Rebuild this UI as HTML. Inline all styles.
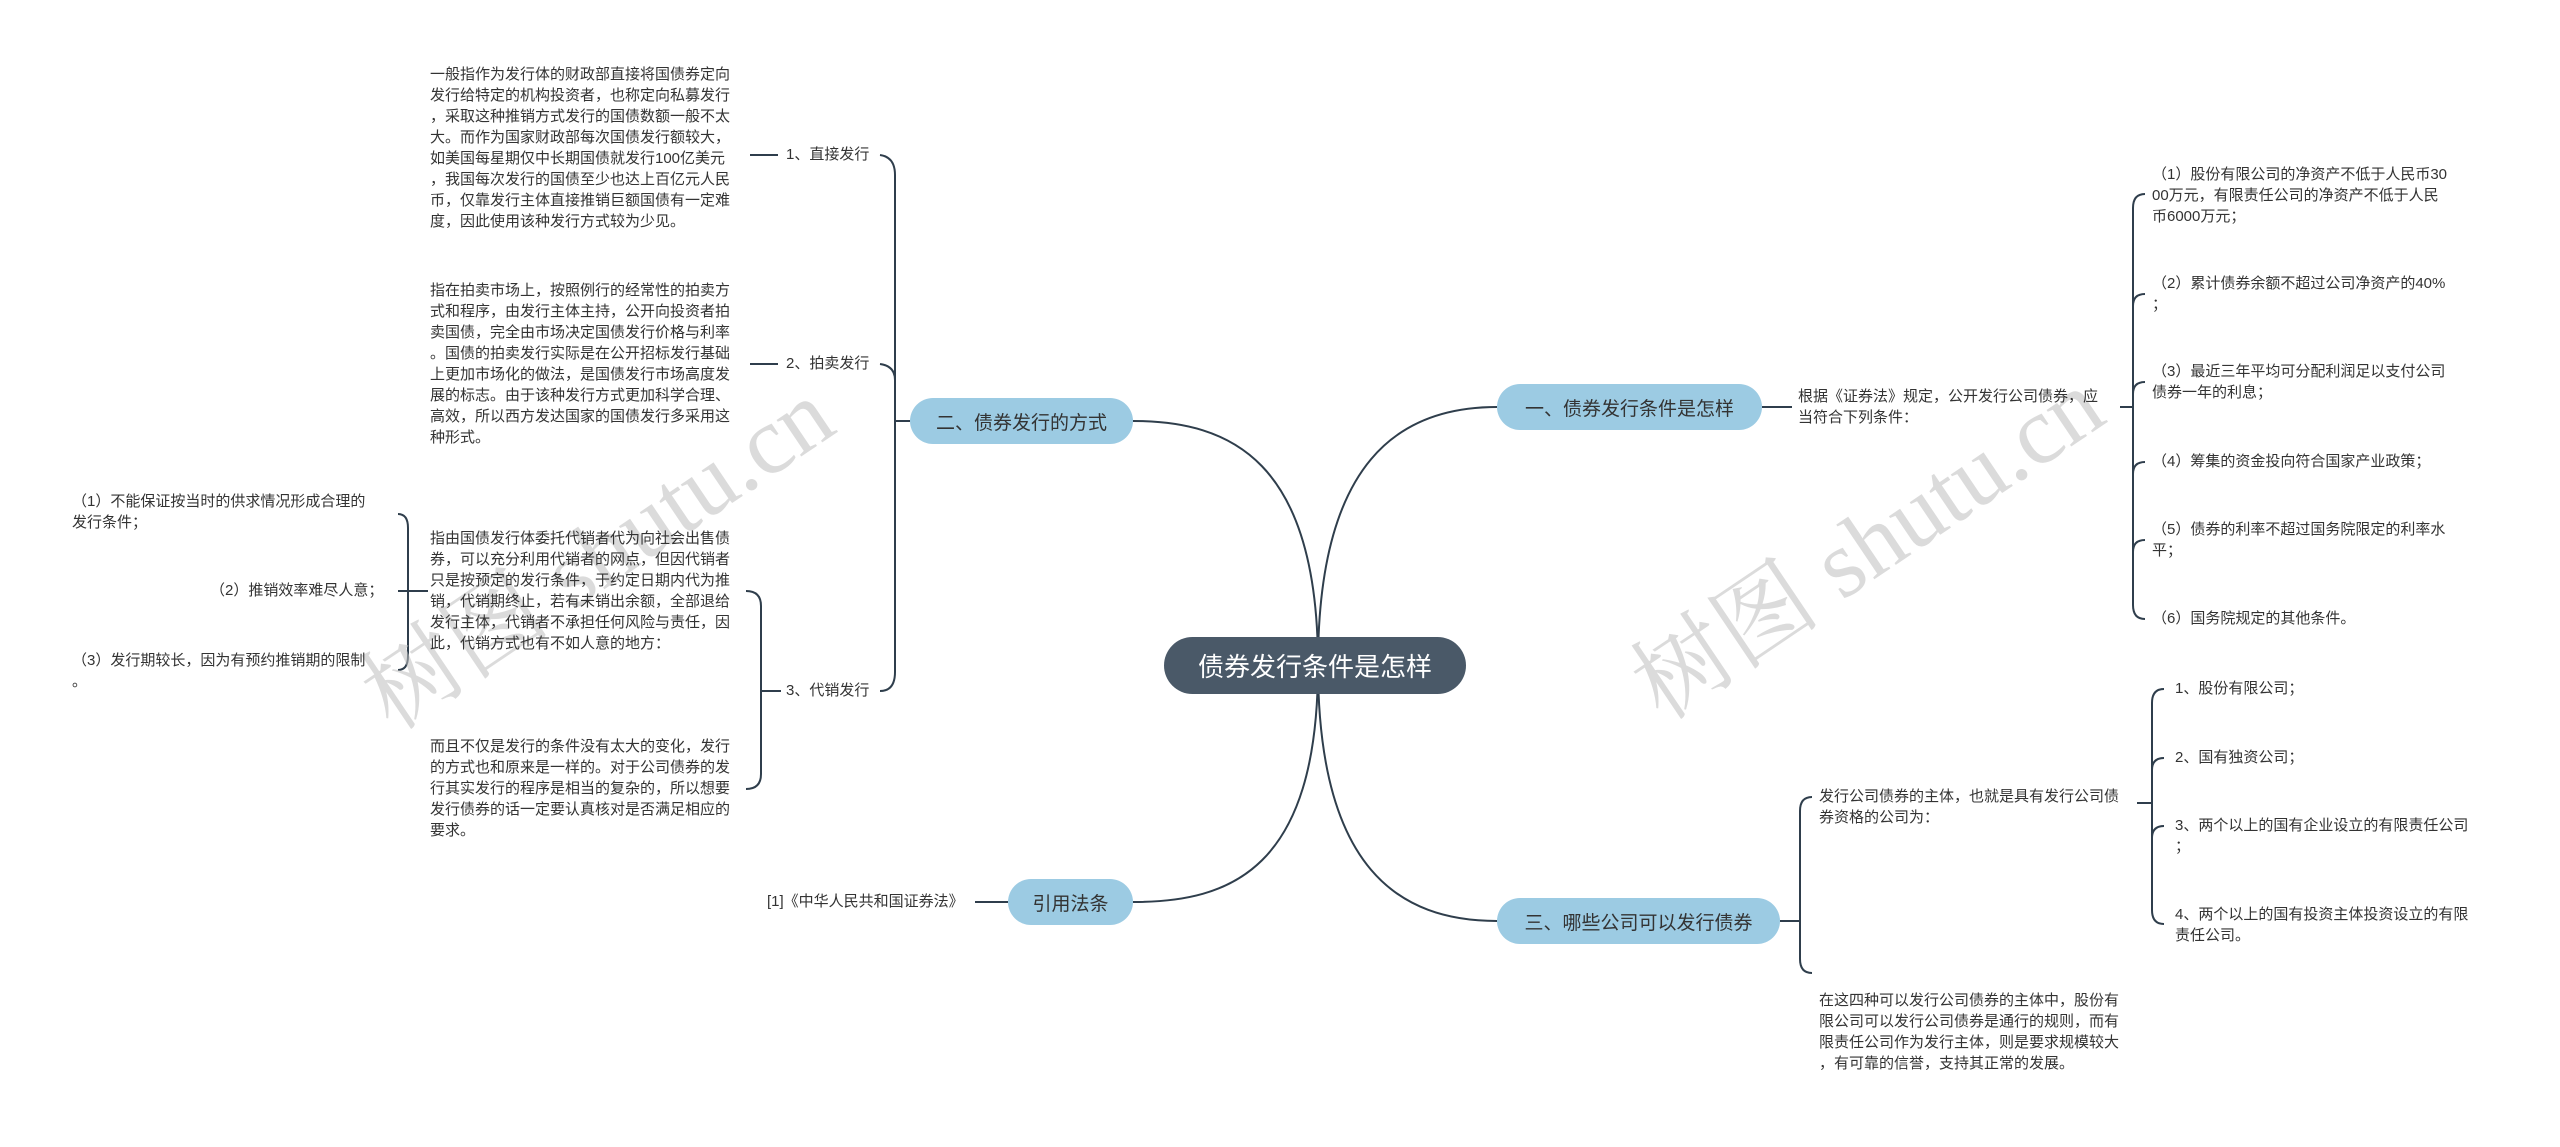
<!DOCTYPE html>
<html><head><meta charset="utf-8"><style>
html,body{margin:0;padding:0;background:#fff;}
#c{position:relative;width:2560px;height:1147px;overflow:hidden;font-family:"Liberation Sans","Noto Sans CJK SC",sans-serif;color:#333;}
.t{position:absolute;font-size:15px;line-height:21px;white-space:nowrap;}
.b{position:absolute;background:#9ccbe3;border-radius:24px;font-size:19px;color:#333;display:flex;align-items:center;justify-content:center;white-space:nowrap;}
.wm{position:absolute;font-family:"Liberation Serif","Noto Serif CJK SC",serif;font-size:96px;color:rgba(190,190,190,0.55);white-space:nowrap;transform-origin:left center;transform:rotate(-34deg);}
</style></head><body><div id="c">
<svg width="2560" height="1147" style="position:absolute;left:0;top:0" fill="none" stroke="#2f3e4c" stroke-width="2">
<path d="M1318,665 C1318,460 1230,421 1133,421"/>
<path d="M1318,665 C1318,460 1400,407 1497,407"/>
<path d="M1318,665 C1318,870 1400,921 1497,921"/>
<path d="M1318,665 C1318,870 1230,902 1133,902"/>
<path d="M910,421 L895,421"/>
<path d="M880,155 Q895,157 895,175 L895,672 Q895,691 880,691"/>
<path d="M880,364 Q895,366 895,380"/>
<path d="M750,155 L778,155"/><path d="M750,364 L778,364"/>
<path d="M746,591 Q761,591 761,606 L761,774 Q761,789 746,789"/>
<path d="M761,691 L781,691"/>
<path d="M398,514 Q408,514 408,528 L408,656 Q408,670 398,670"/>
<path d="M398,591 L428,591"/>
<path d="M975,902 L1008,902"/>
<path d="M1762,407 L1792,407"/>
<path d="M2120,407 L2133,407"/>
<path d="M2145,194 Q2133,194 2133,208 L2133,605 Q2133,619 2145,619"/>
<path d="M2145,294 Q2133,294 2133,306"/><path d="M2145,382 Q2133,382 2133,394"/>
<path d="M2145,462 Q2133,462 2133,474"/><path d="M2145,540 Q2133,540 2133,552"/>
<path d="M1780,921 L1800,921"/>
<path d="M1812,797 Q1800,797 1800,811 L1800,959 Q1800,973 1812,973"/>
<path d="M2137,803 L2152,803"/>
<path d="M2164,689 Q2152,689 2152,703 L2152,910 Q2152,924 2164,924"/>
<path d="M2164,758 Q2152,758 2152,770"/><path d="M2164,826 Q2152,826 2152,838"/>
</svg>

<div class="wm" style="left:370px;top:630px;">树图 shutu.cn</div>
<div class="wm" style="left:1640px;top:620px;">树图 shutu.cn</div>

<div style="position:absolute;left:1164px;top:637px;width:302px;height:57px;background:#4a5968;border-radius:29px;color:#fff;font-size:26px;display:flex;align-items:center;justify-content:center;">债券发行条件是怎样</div>

<div class="b" style="left:910px;top:398px;width:223px;height:46px;">二、债券发行的方式</div>
<div class="b" style="left:1008px;top:879px;width:125px;height:46px;">引用法条</div>
<div class="b" style="left:1497px;top:384px;width:265px;height:46px;">一、债券发行条件是怎样</div>
<div class="b" style="left:1497px;top:898px;width:283px;height:46px;">三、哪些公司可以发行债券</div>

<div class="t" style="left:430px;top:64px;">一般指作为发行体的财政部直接将国债券定向<br>发行给特定的机构投资者，也称定向私募发行<br>，采取这种推销方式发行的国债数额一般不太<br>大。而作为国家财政部每次国债发行额较大，<br>如美国每星期仅中长期国债就发行100亿美元<br>，我国每次发行的国债至少也达上百亿元人民<br>币，仅靠发行主体直接推销巨额国债有一定难<br>度，因此使用该种发行方式较为少见。</div>
<div class="t" style="left:786px;top:144px;">1、直接发行</div>
<div class="t" style="left:430px;top:280px;">指在拍卖市场上，按照例行的经常性的拍卖方<br>式和程序，由发行主体主持，公开向投资者拍<br>卖国债，完全由市场决定国债发行价格与利率<br>。国债的拍卖发行实际是在公开招标发行基础<br>上更加市场化的做法，是国债发行市场高度发<br>展的标志。由于该种发行方式更加科学合理、<br>高效，所以西方发达国家的国债发行多采用这<br>种形式。</div>
<div class="t" style="left:786px;top:353px;">2、拍卖发行</div>
<div class="t" style="left:430px;top:528px;">指由国债发行体委托代销者代为向社会出售债<br>券，可以充分利用代销者的网点，但因代销者<br>只是按预定的发行条件，于约定日期内代为推<br>销，代销期终止，若有未销出余额，全部退给<br>发行主体，代销者不承担任何风险与责任，因<br>此，代销方式也有不如人意的地方：</div>
<div class="t" style="left:430px;top:736px;">而且不仅是发行的条件没有太大的变化，发行<br>的方式也和原来是一样的。对于公司债券的发<br>行其实发行的程序是相当的复杂的，所以想要<br>发行债券的话一定要认真核对是否满足相应的<br>要求。</div>
<div class="t" style="left:786px;top:680px;">3、代销发行</div>
<div class="t" style="left:72px;top:491px;">（1）不能保证按当时的供求情况形成合理的<br>发行条件；</div>
<div class="t" style="left:210px;top:580px;">（2）推销效率难尽人意；</div>
<div class="t" style="left:72px;top:650px;">（3）发行期较长，因为有预约推销期的限制<br>。</div>
<div class="t" style="left:767px;top:891px;">[1]《中华人民共和国证券法》</div>

<div class="t" style="left:1798px;top:386px;">根据《证券法》规定，公开发行公司债券，应<br>当符合下列条件：</div>
<div class="t" style="left:2152px;top:164px;">（1）股份有限公司的净资产不低于人民币30<br>00万元，有限责任公司的净资产不低于人民<br>币6000万元；</div>
<div class="t" style="left:2152px;top:273px;">（2）累计债券余额不超过公司净资产的40%<br>；</div>
<div class="t" style="left:2152px;top:361px;">（3）最近三年平均可分配利润足以支付公司<br>债券一年的利息；</div>
<div class="t" style="left:2152px;top:451px;">（4）筹集的资金投向符合国家产业政策；</div>
<div class="t" style="left:2152px;top:519px;">（5）债券的利率不超过国务院限定的利率水<br>平；</div>
<div class="t" style="left:2152px;top:608px;">（6）国务院规定的其他条件。</div>

<div class="t" style="left:1819px;top:786px;">发行公司债券的主体，也就是具有发行公司债<br>券资格的公司为：</div>
<div class="t" style="left:1819px;top:990px;">在这四种可以发行公司债券的主体中，股份有<br>限公司可以发行公司债券是通行的规则，而有<br>限责任公司作为发行主体，则是要求规模较大<br>，有可靠的信誉，支持其正常的发展。</div>
<div class="t" style="left:2175px;top:678px;">1、股份有限公司；</div>
<div class="t" style="left:2175px;top:747px;">2、国有独资公司；</div>
<div class="t" style="left:2175px;top:815px;">3、两个以上的国有企业设立的有限责任公司<br>；</div>
<div class="t" style="left:2175px;top:904px;">4、两个以上的国有投资主体投资设立的有限<br>责任公司。</div>
</div></body></html>
